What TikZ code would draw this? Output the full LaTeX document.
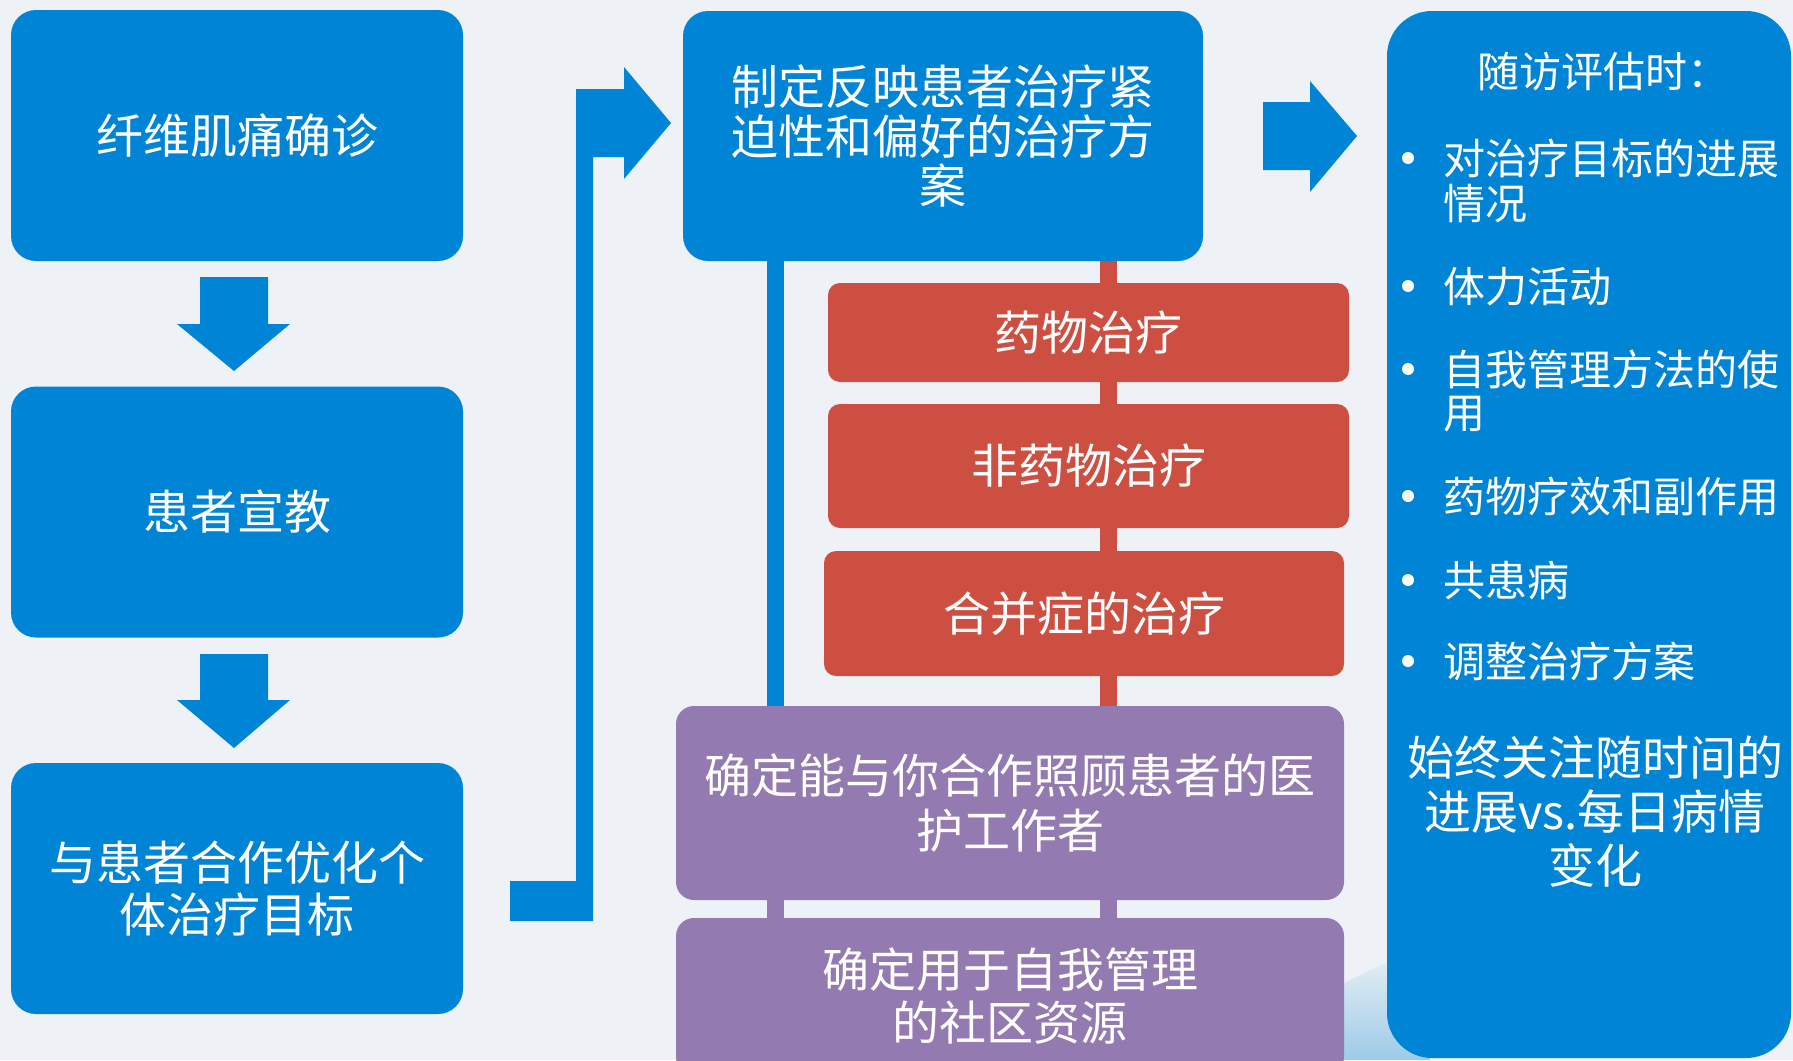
\documentclass[tikz,border=0pt]{standalone}
\usepackage{fontspec}
\setmainfont{Noto Sans CJK SC}
\usetikzlibrary{calc}
\definecolor{bgc}{HTML}{EEF2F6}
\definecolor{mblue}{HTML}{0084D6}
\definecolor{mred}{HTML}{CD4F41}
\definecolor{mpurp}{HTML}{937AB0}
\definecolor{swoosh}{HTML}{9CCBE8}
\pgfdeclarelayer{bg}
\pgfsetlayers{bg,main}
\tikzset{
  box/.style={rounded corners=25pt, fill=mblue, text=white, inner sep=0pt, align=center,
    font=\fontsize{47pt}{52pt}\selectfont},
  leftbox/.style={box, minimum width=452pt, minimum height=251pt},
  redbox/.style={box, fill=mred, rounded corners=12pt, minimum width=521pt},
  purpbox/.style={box, fill=mpurp, rounded corners=18pt, minimum width=668pt},
  blockarrow/.style={fill=mblue},
  bar/.style={line width=17pt},
  ptext/.style={text=white, inner sep=0pt, font=\fontsize{42pt}{45pt}\selectfont,
    text height=37pt, text depth=5pt, anchor=west},
  dot/.style={fill=white},
}
\begin{document}
\begin{tikzpicture}[x=1pt,y=-1pt]
\clip (0,0) rectangle (1793,1060);
% boxes
\node[leftbox] (b1) at (237,135.5) {纤维肌痛确诊};
\node[leftbox] (b2) at (237,512) {患者宣教};
\node[leftbox] (b3) at (237,888.5) {与患者合作优化个\\体治疗目标};
\node[box, minimum width=520pt, minimum height=250pt, font=\fontsize{47pt}{49.5pt}\selectfont]
  (plan) at (943,136) {制定反映患者治疗紧\\迫性和偏好的治疗方\\案};
\node[redbox, minimum height=99pt] (r1) at (1088.5,332.5) {药物治疗};
\node[redbox, minimum height=124pt] (r2) at (1088.5,466) {非药物治疗};
\node[redbox, minimum width=520pt, minimum height=125pt] (r3) at (1084,613.5) {合并症的治疗};
\node[purpbox, minimum height=194pt, font=\fontsize{47pt}{55pt}\selectfont]
  (p1) at (1010,803) {确定能与你合作照顾患者的医\\护工作者};
\node[purpbox, minimum height=157pt, font=\fontsize{47pt}{53pt}\selectfont]
  (p2) at (1010,996.5) {确定用于自我管理\\的社区资源};
\node[box, rounded corners=45pt, minimum width=404pt, minimum height=1047pt] (panel) at (1589,534.5) {};
% panel texts
\node[ptext, anchor=center] (title) at (1603,71) {随访评估时：};
\node[ptext] (i1a) at (1443,158) {对治疗目标的进展};
\node[ptext] (i1b) at (1443,203) {情况};
\node[ptext] (i2) at (1443,286) {体力活动};
\node[ptext] (i3a) at (1443,369) {自我管理方法的使};
\node[ptext] (i3b) at (1443,412) {用};
\node[ptext] (i4) at (1443,496) {药物疗效和副作用};
\node[ptext] (i5) at (1443,580) {共患病};
\node[ptext] (i6) at (1443,661) {调整治疗方案};
\foreach \yy in {158,286,369,496,580,661} { \fill[dot] (1408,\yy) circle (6); }
\node[text=white, align=center, inner sep=0pt, font=\fontsize{47pt}{54pt}\selectfont]
  (note) at (1595,812) {始终关注随时间的\\进展vs.每日病情\\变化};
% connectors behind
\coordinate (bx) at (775.5,0);
\coordinate (rx) at (1108.5,0);
\begin{pgfonlayer}{bg}
\fill[bgc] (0,0) rectangle (1793,1060);
\shade[top color=bgc, bottom color=swoosh] (1230,1060) .. controls (1290,1010) and (1350,975) .. (1430,945) -- (1430,1060) -- cycle;
\draw[bar, mblue] (plan.south -| bx) -- (p1.north -| bx);
\draw[bar, mred] (plan.south -| rx) -- (p1.north -| rx);
\draw[bar, mpurp] (p1.south -| bx) -- (p2.north -| bx);
\draw[bar, mpurp] (p1.south -| rx) -- (p2.north -| rx);
\end{pgfonlayer}
% block arrows
\fill[blockarrow] (200,277) -- (268,277) -- (268,324) -- (290,324) -- (234,371) -- (177,324) -- (200,324) -- cycle;
\fill[blockarrow] (200,654) -- (268,654) -- (268,700) -- (290,700) -- (234,748) -- (177,700) -- (200,700) -- cycle;
\fill[blockarrow] (510,881) -- (576,881) -- (576,89) -- (624,89) -- (624,67) -- (671,123) -- (624,179) -- (624,157) -- (593,157) -- (593,921) -- (510,921) -- cycle;
\fill[blockarrow] (1263,102) -- (1310,102) -- (1310,81) -- (1357,136) -- (1310,192) -- (1310,170) -- (1263,170) -- cycle;
\end{tikzpicture}
\end{document}
